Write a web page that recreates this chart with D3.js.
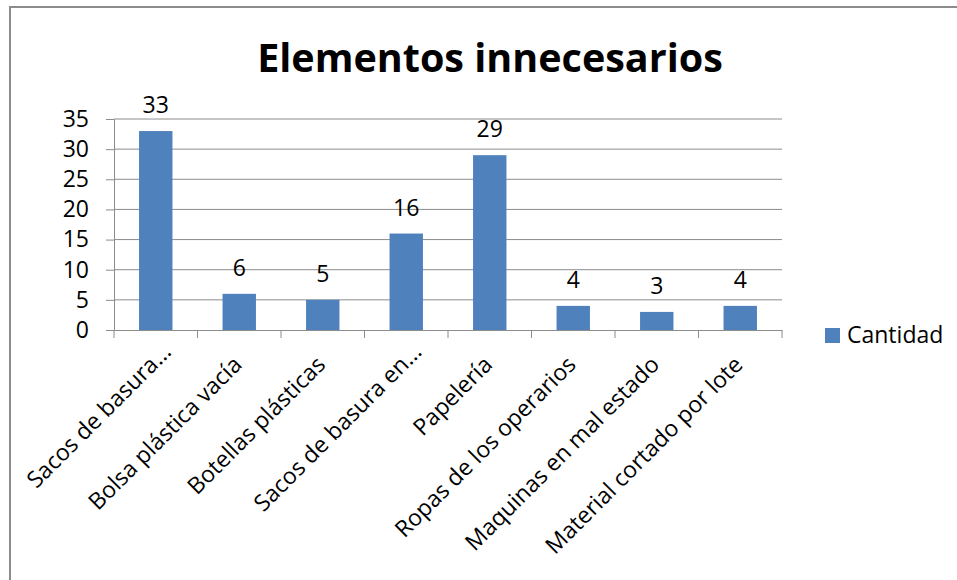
<!DOCTYPE html>
<html>
<head>
<meta charset="utf-8">
<script src="https://cdn.jsdelivr.net/npm/d3@7"></script>
<style>
  body { margin: 0; background: #fff; }
  text { font-family: "Open Sans", sans-serif; }
</style>
</head>
<body>
<div id="chart"></div>
<script>
// datos del grafico
var categorias = ["Sacos de basura...", "Bolsa plástica vacía", "Botellas plásticas",
  "Sacos de basura en...", "Papelería", "Ropas de los operarios",
  "Maquinas en mal estado", "Material cortado por lote"];
var cantidad = [33, 6, 5, 16, 29, 4, 3, 4];
var ticksY = [0, 5, 10, 15, 20, 25, 30, 35];
var serie = "Cantidad";
var titulo = "Elementos innecesarios";

var W = 957, H = 580;
var margin = {top: 119, left: 114, right: W - 782, bottom: H - 330};
var ancho = W - margin.left - margin.right,
    altura = H - margin.top - margin.bottom;

var svg = d3.select("#chart").append("svg")
  .attr("width", W).attr("height", H);

// marco del grafico
svg.append("path")
  .attr("d", "M10,580 V7 H957")
  .attr("fill", "none")
  .attr("stroke", "#8c8c8c")
  .attr("stroke-width", 2);

svg.append("text")
  .attr("x", 490).attr("y", 72)
  .attr("text-anchor", "middle")
  .style("font-size", "39.5px")
  .style("font-weight", "bold")
  .text(titulo);

var g = svg.append("g")
  .attr("transform", "translate(" + margin.left + "," + margin.top + ")");

var x = d3.scaleBand().domain(categorias).range([0, ancho]);
var y = d3.scaleLinear().domain([0, 35]).range([altura, 0]);

// lineas de cuadricula
g.selectAll(".grid").data(ticksY.slice(1)).enter().append("line")
  .attr("x1", 0).attr("x2", ancho)
  .attr("y1", function(d) { return y(d); }).attr("y2", function(d) { return y(d); })
  .attr("stroke", "#8c8c8c").attr("stroke-width", 1);

// barras
var bw = x.bandwidth() * 0.4;
g.selectAll(".bar").data(cantidad).enter().append("rect")
  .attr("x", function(d, i) { return x(categorias[i]) + x.bandwidth() / 2 - bw / 2; })
  .attr("y", function(d) { return y(d); })
  .attr("width", bw)
  .attr("height", function(d) { return altura - y(d); })
  .attr("fill", "#4f81bd");

// etiquetas de datos
g.selectAll(".lbl").data(cantidad).enter().append("text")
  .attr("x", function(d, i) { return x(categorias[i]) + x.bandwidth() / 2; })
  .attr("y", function(d) { return y(d) - 18; })
  .attr("text-anchor", "middle")
  .style("font-size", "23px")
  .text(function(d) { return d; });

// eje y
var ejeY = g.append("g")
  .call(d3.axisLeft(y).tickValues(ticksY).tickSize(8).tickPadding(17));
ejeY.selectAll("line, path").attr("stroke", "#8c8c8c");
ejeY.selectAll("text").style("font-size", "23px").attr("fill", "#000");

// eje x
var ejeX = g.append("g")
  .attr("transform", "translate(0," + altura + ")")
  .call(d3.axisBottom(x).tickSize(0).tickFormat(""));
ejeX.select(".domain").attr("stroke", "#8c8c8c");
g.selectAll(".xt").data(d3.range(categorias.length + 1)).enter().append("line")
  .attr("x1", function(i) { return i * x.step(); })
  .attr("x2", function(i) { return i * x.step(); })
  .attr("y1", altura).attr("y2", altura + 8)
  .attr("stroke", "#8c8c8c");

g.selectAll(".xl").data(categorias).enter().append("text")
  .attr("transform", function(d) {
    return "translate(" + (x(d) + x.bandwidth() / 2 + 4) + "," + (altura + 36) + ") rotate(-45)";
  })
  .attr("text-anchor", "end")
  .attr("dx", function(d) { return /\.\.\.$/.test(d) ? 18 : 0; })
  .style("font-size", "23px")
  .text(function(d) { return d; });

// leyenda
svg.append("rect")
  .attr("x", 825).attr("y", 328).attr("width", 15).attr("height", 15)
  .attr("fill", "#4f81bd");
svg.append("text")
  .attr("x", 847).attr("y", 343)
  .style("font-size", "23px")
  .text(serie);
</script>
</body>
</html>
